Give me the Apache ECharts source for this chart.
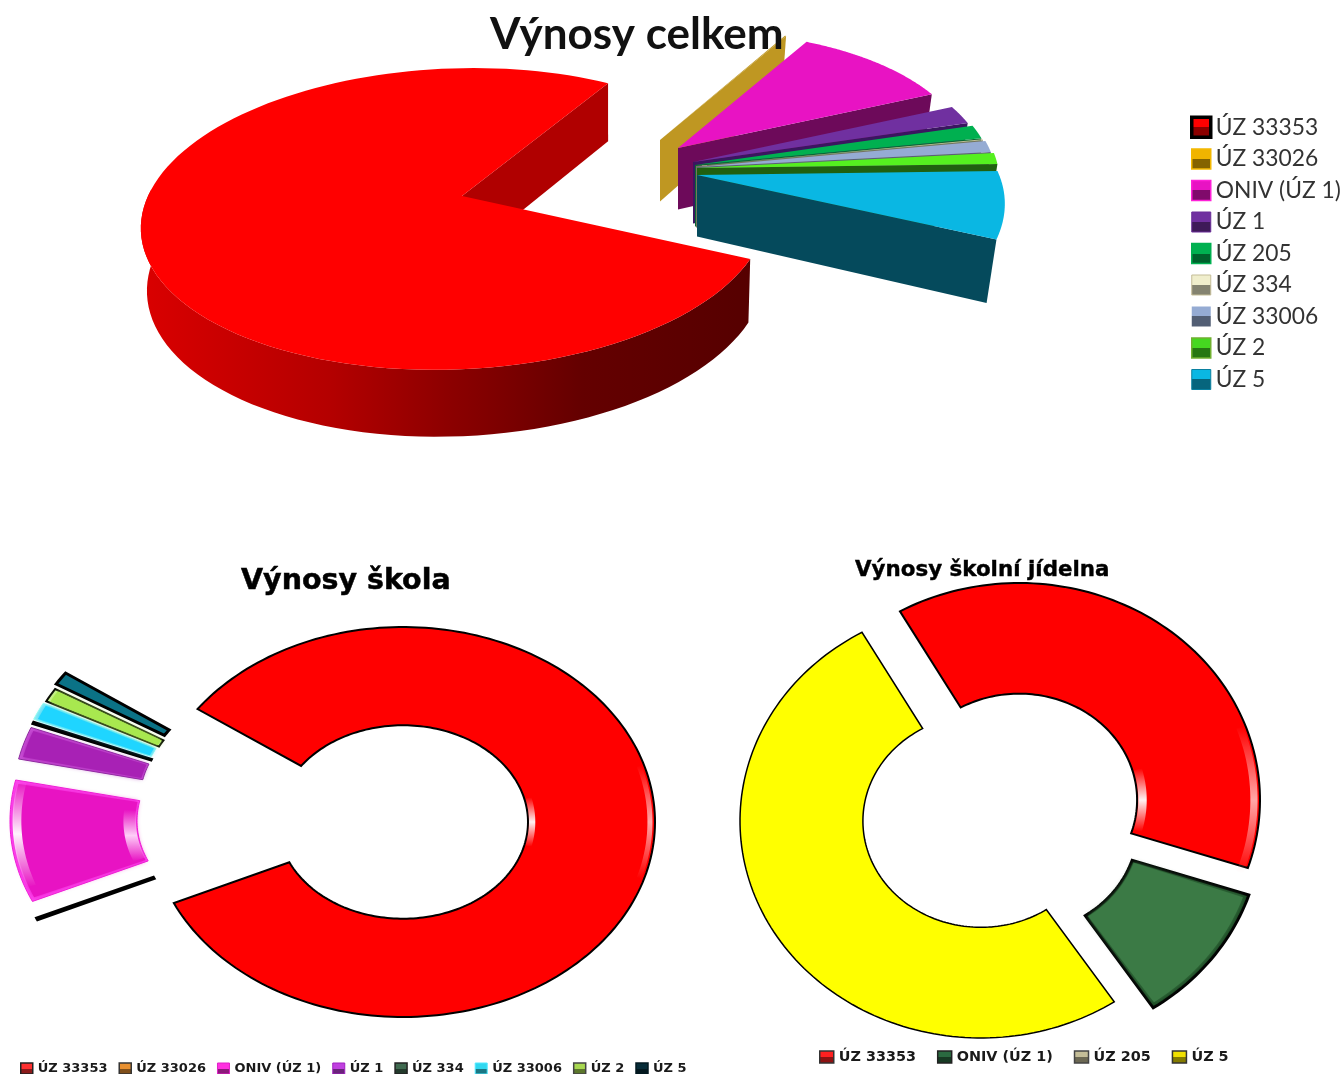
<!DOCTYPE html>
<html><head><meta charset="utf-8">
<style>html,body{margin:0;padding:0;background:#fff}#c{width:1344px;height:1074px}</style>
<script src="https://cdn.jsdelivr.net/npm/echarts@6/dist/echarts.min.js"></script>
</head><body><div id="c"></div>
<script>
// ---------- data (shares in %) ----------
const categoriesTotal = ['ÚZ 33353','ÚZ 33026','ONIV (ÚZ 1)','ÚZ 1','ÚZ 205','ÚZ 334','ÚZ 33006','ÚZ 2','ÚZ 5'];
const valuesTotal     = [76.75, 0.08, 9.92, 2.08, 1.53, 0.11, 1.28, 1.25, 7.0];
const categoriesSchool = ['ÚZ 33353','ÚZ 33026','ONIV (ÚZ 1)','ÚZ 1','ÚZ 334','ÚZ 33006','ÚZ 2','ÚZ 5'];
const valuesSchool     = [83.33, 0.06, 10.14, 2.69, 0.11, 1.44, 1.14, 1.08];
const categoriesCanteen = ['ÚZ 33353','ONIV (ÚZ 1)','ÚZ 205','ÚZ 5'];
const valuesCanteen     = [38.3, 10.6, 0, 51.1];

// ---------- layout and style ----------
const top3d = {cx:457, cy:196, R:309, Rk:147.4, p:0.152, shear:19, depth:61.5, start:23.7, skew:-3,
  explode:[[5,0],[203,-56],[221,-48],[236,-34],[238,-31],[239,-30],[240,-29],[240,-28],[240,-21]],
  rim:[1,0.89,0.91,0.95,0.96,0.96,0.965,0.975,0.975],
  rimEnd:[1,0.89,0.93,0.95,0.96,0.96,0.965,0.975,1.02],
  fill:['#ff0000','#bf9722','#e813c3','#7030a0','#00b050','#c4bd97','#95abd3','#55f020','#0ab7e3'],
  side:['#b00000','#bf9722','#6d0a5a','#3b1660','#0a6a34','#77745f','#5a6078','#206010','#054a5c']};
const school = {cx:403, cy:822, rx:252, ry:195, ri:0.496, start:215.4,
  explode:[[0,0],[-136,16],[-141,-1],[-138,-22],[-136,-26],[-136,-29],[-133,-31],[-132,-36]],
  fill:['#ff0000','#000000','#e813c3','#a821b5','#000000','#1fd5ff','#a8e84f','#0b7286'],
  bevel:[null,null,'#ff45f0','#c94fd6',null,'#8fe9f5','#d0f59a',null],
  inset:[1,1,0.985,0.985,1,0.985,0.985,1],
  stroke:['#000','#000','#f020d8','#8a2b9c','#000','#9fe','#000','#000'],
  width:[2,4,1,1,3,1,2,3],
  glint:[[[360,17,0.97,0.99,'#ffb0b0'],[360,14,0.5,0.525,'#ffffff']],[],[[176,16,0.955,0.99,'#ffffff'],[172,14,0.5,0.55,'#ffd8fa']],[],[],[],[],[]]};
const canteen = {cx:1000, cy:810, rx:241, ry:217, ri:0.49, start:240.4,
  explode:[[19,-10],[20,17],[0,0],[-19,11]],
  fill:['#ff0000','#3b7a45','#c4bd97','#ffff00'],
  bevel:[null,'#1c4a24',null,null],
  inset:[1,0.98,1,1],
  stroke:['#000','#000','#000','#000'],
  width:[2,3,0,1.5],
  glint:[[[360,20,0.96,0.99,'#ffb0b0'],[360,16,0.495,0.53,'#ffffff']],[],[],[]]};
const legendTop = [['#ff0000','#000',3.5],['#f0b400','#f3b800',1.5],['#e813c3','#ff20d8',1.5],['#7030a0','#6a2c99',1],['#00b050','#00b050',1.5],['#f0eecc','#c4bd97',1],['#95abd3','#95abd3',0],['#45d820','#70b030',1.5],['#0ab7e3','#0a80a0',1]];
const legendSchool = [['#ff3030','#222',1.5],['#e89030','#333',1.5],['#ff30e0','#e020c8',1],['#c040e0','#a020c0',1],['#406a50','#222',1.5],['#30d8f0','#50e8ff',1],['#a8d850','#444',1.5],['#062c38','#021820',1.5]];
const legendCanteen = [['#ff2020','#333',1.5],['#2a6a40','#222',1.5],['#c4bd97','#444',1.5],['#f0e000','#333',1.5]];

const rad = d => d * Math.PI / 180;
function spans(values, start) {
  const sum = values.reduce((a, b) => a + b, 0);
  let a = start;
  return values.map(v => { const s = [a, a + v / sum * 360]; a = s[1]; return s; });
}
// ---- perspective slice of the big pie ----
const totalSpans = spans(valuesTotal, top3d.start);
const fanFrom = totalSpans[0][1], fanTo = totalSpans[totalSpans.length - 1][1];
function proj(ax, ay, ang, rs) {
  const u = rs * Math.cos(rad(ang)), v = rs * Math.sin(rad(ang));
  const s = 1 / (1 - top3d.p * v);
  return {x: ax + (top3d.R * u - top3d.shear * v) * s, y: ay + top3d.Rk * v * s, s};
}
function low(pt, ax, k, dx) { return [ax + (pt.x - ax) * k + dx, pt.y + top3d.depth * (1 + 0.49 * ((pt.s || 1) - 1))]; }
function render3d(i, span) {
  const isMain = i === 0;
  const ax = top3d.cx + top3d.explode[i][0], ay = top3d.cy + top3d.explode[i][1];
  const apex = {x: ax, y: ay, s: 1};
  // the main slice's arc is centred on the pie centre; its tip sits a little to the right
  const ox = isMain ? top3d.cx : ax;
  const k = isMain ? 0.987 : 0.967, dx = isMain ? 2 : 0;
  // the exploded fan is seen slightly rotated at its far end
  const tw = a => isMain ? a : a + top3d.skew * Math.pow(1 - (a - fanFrom) / (fanTo - fanFrom), 3);
  const a0 = tw(span[0]), a1 = tw(span[1]);
  const arc = [];
  for (let j = 0; j <= 120; j++) {
    const t = j / 120;
    arc.push(proj(ox, ay, a0 + (a1 - a0) * t, top3d.rim[i] + (top3d.rimEnd[i] - top3d.rim[i]) * t));
  }
  const kids = [];
  if (isMain) {
    const rimGrad = new echarts.graphic.LinearGradient(150, 0, 750, 0, [
      {offset:0, color:'#d80000'},{offset:0.3, color:'#b40000'},{offset:0.5, color:'#8c0000'},
      {offset:0.72, color:'#640000'},{offset:1, color:'#560000'}], true);
    const vis = arc.filter(p => p.y > ay - 10);
    const wall = vis.map(p => [p.x, p.y]).concat(vis.slice().reverse().map(p => low(p, ox, k, dx)));
    kids.push({type:'polygon', shape:{points:wall}, style:{fill:rimGrad}});
  }
  const e = arc[arc.length - 1];
  kids.push({type:'polygon', shape:{points:[[apex.x,apex.y],[e.x,e.y],low(e,ox,k,dx),low(apex,ox,k,dx)]}, style:{fill: top3d.side[i]}});
  kids.push({type:'polygon', shape:{points:[[apex.x, apex.y]].concat(arc.map(p => [p.x, p.y]))}, style:{fill: top3d.fill[i]}});
  return {type:'group', children:kids};
}
// ---- flat ring slice ----
function ringPts(cx, cy, rx, ry, ri, a0, a1, ro) {
  const pts = [], n = Math.max(4, Math.ceil((a1 - a0) / 1.5)), o = ro || 1;
  for (let k = 0; k <= n; k++) { const a = rad(a0 + (a1 - a0) * k / n); pts.push([cx + rx * o * Math.cos(a), cy + ry * o * Math.sin(a)]); }
  for (let k = n; k >= 0; k--) { const a = rad(a0 + (a1 - a0) * k / n); pts.push([cx + rx * ri * Math.cos(a), cy + ry * ri * Math.sin(a)]); }
  return pts;
}
function renderRing(cfg, i, span) {
  const cx = cfg.cx + cfg.explode[i][0], cy = cfg.cy + cfg.explode[i][1];
  const [a0, a1] = span, kids = [];
  kids.push({type:'polygon', shape:{points: ringPts(cx, cy, cfg.rx, cfg.ry, cfg.ri, a0, a1)},
    style:{fill: cfg.bevel[i] || cfg.fill[i], stroke: cfg.stroke[i], lineWidth: cfg.width[i], lineJoin:'miter'}});
  if (cfg.bevel[i]) {
    const ins = cfg.inset[i], da = Math.min(1, (a1 - a0) * 0.08);
    kids.push({type:'polygon', shape:{points: ringPts(cx, cy, cfg.rx, cfg.ry, cfg.ri * (2 - ins), a0 + da, a1 - da, ins)},
      style:{fill: cfg.fill[i], shadowBlur:5, shadowColor:cfg.fill[i]}});
  }
  (cfg.glint[i] || []).forEach(g => {
    const [mid, half, r0, r1, col] = g;
    const tint = echarts.color.modifyAlpha(col, 0), solid = echarts.color.modifyAlpha(col, 0.95);
    kids.push({type:'polygon', shape:{points: ringPts(cx, cy, cfg.rx, cfg.ry, r0, mid - half, mid + half, r1)},
      style:{fill:new echarts.graphic.LinearGradient(0,0,0,1,[{offset:0,color:tint},{offset:0.5,color:solid},{offset:1,color:tint}])}});
  });
  return {type:'group', children:kids};
}

// ---------- one custom series per slice, so each legend lists real series ----------
const series = [];
function addSeries(names, values, spanList, painter, colors) {
  names.forEach((name, i) => {
    series.push({type:'custom', name, coordinateSystem:'none', silent:true, animation:false,
      itemStyle:{color:colors[i]}, data:[values[i]],
      renderItem:() => painter(i, spanList[i])});
  });
}
addSeries(categoriesTotal, valuesTotal, totalSpans, render3d, top3d.fill);
addSeries(categoriesSchool, valuesSchool, spans(valuesSchool, school.start), (i, s) => renderRing(school, i, s), school.fill);
addSeries(categoriesCanteen, valuesCanteen, spans(valuesCanteen, canteen.start), (i, s) => renderRing(canteen, i, s), canteen.fill);

function darker(c) {
  const p = echarts.color.parse(c);
  return 'rgb(' + [p[0], p[1], p[2]].map(x => Math.round(x * 0.55)).join(',') + ')';
}
function legendItems(names, styles) {
  return names.map((name, i) => {
    const dark = darker(styles[i][0]);
    return {name, icon:'rect', itemStyle:{
      color:new echarts.graphic.LinearGradient(0,0,0,1,[{offset:0,color:styles[i][0]},{offset:0.5,color:styles[i][0]},{offset:0.5,color:dark},{offset:1,color:dark}]),
      borderColor:styles[i][1], borderWidth:styles[i][2]}};
  });
}
const lb = {fontFamily:'DejaVu Sans', fontWeight:'bold', color:'#1a1a1a'};
const option = {
  backgroundColor:'#ffffff', animation:false,
  title:[
    {text:'Výnosy celkem', left:490, top:13, padding:0, textStyle:{fontFamily:'Lato', fontWeight:'bold', fontSize:44, color:'#111'}},
    {text:'Výnosy škola', left:241, top:567, padding:0, textStyle:{fontFamily:'DejaVu Sans', fontWeight:'bold', fontSize:28.5, color:'#000', textBorderColor:'#000', textBorderWidth:0.5}},
    {text:'Výnosy školní jídelna', left:855, top:560, padding:0, textStyle:{fontFamily:'DejaVu Sans', fontWeight:'bold', fontSize:21.4, color:'#000', textBorderColor:'#000', textBorderWidth:0.4}}
  ],
  legend:[
    {orient:'vertical', left:1190, top:115.5, itemWidth:19, itemHeight:20, itemGap:8.5, padding:0, selectedMode:false,
     data:legendItems(categoriesTotal, legendTop), textStyle:{fontFamily:'Lato', fontSize:22.8, color:'#333'}},
    {orient:'horizontal', left:20, top:1062, itemWidth:12, itemHeight:11, itemGap:11, padding:0, selectedMode:false,
     data:legendItems(categoriesSchool, legendSchool), textStyle:Object.assign({fontSize:13}, lb)},
    {orient:'horizontal', left:819, top:1050, itemWidth:14, itemHeight:12, itemGap:21, padding:0, selectedMode:false,
     data:legendItems(categoriesCanteen, legendCanteen), textStyle:Object.assign({fontSize:14.4}, lb)}
  ],
  series
};
const chart = echarts.init(document.getElementById('c'), null, {renderer:'canvas'});
chart.setOption(option);
</script></body></html>
